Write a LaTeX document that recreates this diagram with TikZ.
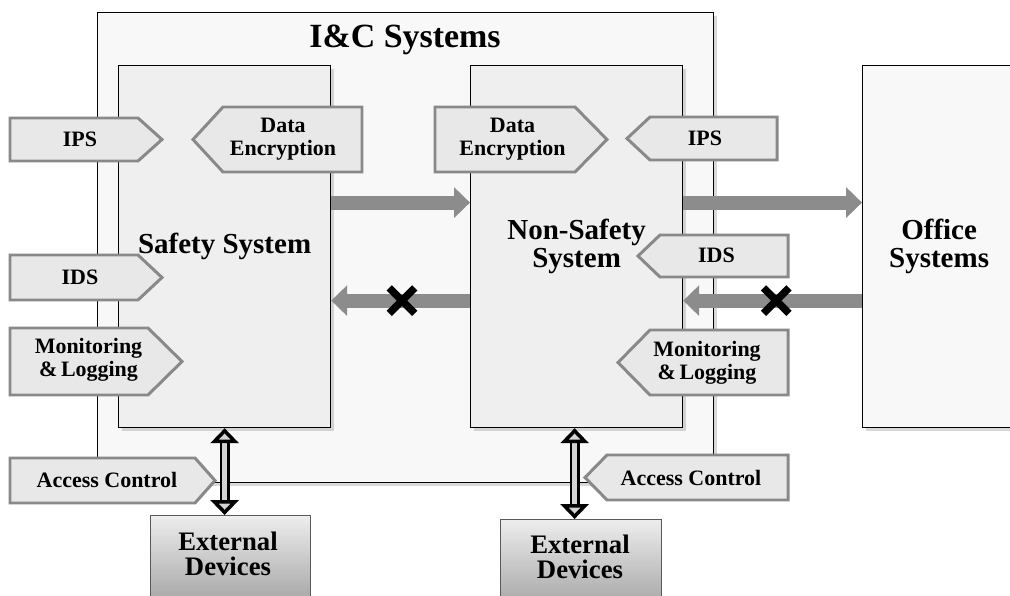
\documentclass[tikz,border=0pt]{standalone}
\usepackage{fontspec}
\setmainfont{Liberation Serif}
\usetikzlibrary{arrows.meta,shadows,shapes.misc}
\definecolor{outerfill}{HTML}{F8F8F8}
\definecolor{boxfill}{HTML}{EFEFEF}
\definecolor{signfill}{HTML}{E8E8E8}
\definecolor{signline}{HTML}{898989}
\definecolor{flowgray}{HTML}{8C8C8C}
\definecolor{dblfill}{HTML}{D4D4D4}
\begin{document}
\begin{tikzpicture}[
    sysbox/.style={draw=black, line width=0.7pt, fill=boxfill, anchor=north west, align=center, inner sep=0pt,
      font=\fontsize{16.5}{16.2}\selectfont\bfseries,
      drop shadow={shadow xshift=0.06cm, shadow yshift=-0.06cm, opacity=0.3}},
    extbox/.style={draw=black!65, line width=0.6pt, top color=gray!14, bottom color=gray!85,
      anchor=north west, inner sep=0pt},
    extlabel/.style={anchor=north, align=center, inner sep=0pt, font=\fontsize{15.2}{14.2}\selectfont\bfseries},
    sign/.style={draw=signline, line width=1.7pt, fill=signfill},
    signtext/.style={align=center, inner sep=0pt, font=\fontsize{12.5}{13}\selectfont\bfseries},
    flow/.style={draw=flowgray, line width=0.28cm, -{Triangle[length=0.32cm,width=0.6cm]}},
    xmark/.style={cross out, draw=black, line width=0.15cm, minimum size=0.36cm, inner sep=0pt},
    dblarrow/.style={draw=black, line width=1.6pt, double=dblfill, double distance=0.09cm,
      {Triangle[length=0.3cm,width=0.56cm,line width=2pt,fill=dblfill]}-{Triangle[length=0.3cm,width=0.56cm,line width=2pt,fill=dblfill]}}
  ]
  \useasboundingbox (0,0) rectangle (20.2,-11.92);
  \clip (0,0) rectangle (20.2,-11.92);

  % I&C systems frame
  \node[sysbox, fill=outerfill, minimum width=12.32cm, minimum height=9.4cm] (ic) at (1.94,-0.24) {};
  \node[font=\fontsize{19.3}{20}\selectfont\bfseries, inner sep=0pt] (ictitle) at (8.1,-0.8) {I\&C Systems};

  % systems
  \node[sysbox, minimum width=4.24cm, minimum height=7.24cm] (safety) at (2.36,-1.3) {Safety System};
  \node[sysbox, minimum width=4.24cm, minimum height=7.24cm] (nonsafety) at (9.4,-1.3) {Non-Safety\\System};
  \node[sysbox, fill=outerfill, minimum width=3.06cm, minimum height=7.24cm] (office) at (17.24,-1.3) {Office\\Systems};

  % external devices
  \node[extbox, minimum width=3.2cm, minimum height=2.2cm] (extl) at (3.0,-10.3) {};
  \node[extlabel] (extltext) at (4.56,-10.64) {External\\Devices};
  \node[extbox, minimum width=3.22cm, minimum height=2.2cm] (extr) at (10.0,-10.38) {};
  \node[extlabel] (extrtext) at (11.6,-10.7) {External\\Devices};

  % data flows
  \draw[flow] ([yshift=0.88cm]safety.east) -- ([yshift=0.88cm]nonsafety.west);
  \draw[flow] ([yshift=-1.08cm]nonsafety.west) -- ([yshift=-1.08cm]safety.east) node[pos=0.49, xmark] (xsafe) {};
  \draw[flow] ([yshift=0.88cm]nonsafety.east) -- ([yshift=0.88cm]office.west);
  \draw[flow] ([yshift=-1.08cm]office.west) -- ([yshift=-1.08cm]nonsafety.east) node[pos=0.48, xmark] (xoffice) {};

  \draw[dblarrow] (safety.south) -- (safety.south |- extl.north);
  \draw[dblarrow] ([xshift=-0.04cm]nonsafety.south) -- ([xshift=-0.04cm]nonsafety.south |- extr.north);

  % safety system measures
  \draw[sign] (0.2,-2.36)--(2.76,-2.36)--(3.24,-2.79)--(2.76,-3.22)--(0.2,-3.22)--cycle;
  \node[signtext] (ipsl) at (1.6,-2.78) {IPS};
  \draw[sign] (3.86,-2.79)--(4.46,-2.14)--(7.24,-2.14)--(7.24,-3.44)--(4.46,-3.44)--cycle;
  \node[signtext] (encl) at (5.66,-2.78) {Data\\Encryption};
  \draw[sign] (0.2,-5.1)--(2.76,-5.1)--(3.24,-5.55)--(2.76,-6.0)--(0.2,-6.0)--cycle;
  \node[signtext] (idsl) at (1.6,-5.54) {IDS};
  \draw[sign] (0.2,-6.56)--(2.96,-6.56)--(3.64,-7.23)--(2.96,-7.9)--(0.2,-7.9)--cycle;
  \node[signtext] (monl) at (1.77,-7.2) {Monitoring\\\&\,Logging};
  \draw[sign] (0.2,-9.16)--(3.9,-9.16)--(4.3,-9.61)--(3.9,-10.06)--(0.2,-10.06)--cycle;
  \node[signtext] (accl) at (2.14,-9.6) {Access Control};

  % non-safety system measures
  \draw[sign] (8.7,-2.14)--(11.5,-2.14)--(12.14,-2.79)--(11.5,-3.44)--(8.7,-3.44)--cycle;
  \node[signtext] (encr) at (10.25,-2.78) {Data\\Encryption};
  \draw[sign] (12.54,-2.77)--(13.0,-2.34)--(15.54,-2.34)--(15.54,-3.2)--(13.0,-3.2)--cycle;
  \node[signtext] (ipsr) at (14.1,-2.76) {IPS};
  \draw[sign] (12.76,-5.12)--(13.2,-4.7)--(15.76,-4.7)--(15.76,-5.54)--(13.2,-5.54)--cycle;
  \node[signtext] (idsr) at (14.33,-5.1) {IDS};
  \draw[sign] (12.36,-7.25)--(13.0,-6.6)--(15.76,-6.6)--(15.76,-7.9)--(13.0,-7.9)--cycle;
  \node[signtext] (monr) at (14.14,-7.26) {Monitoring\\\&\,Logging};
  \draw[sign] (11.7,-9.55)--(12.14,-9.1)--(15.76,-9.1)--(15.76,-10.0)--(12.14,-10.0)--cycle;
  \node[signtext] (accr) at (13.82,-9.56) {Access Control};
\end{tikzpicture}
\end{document}
